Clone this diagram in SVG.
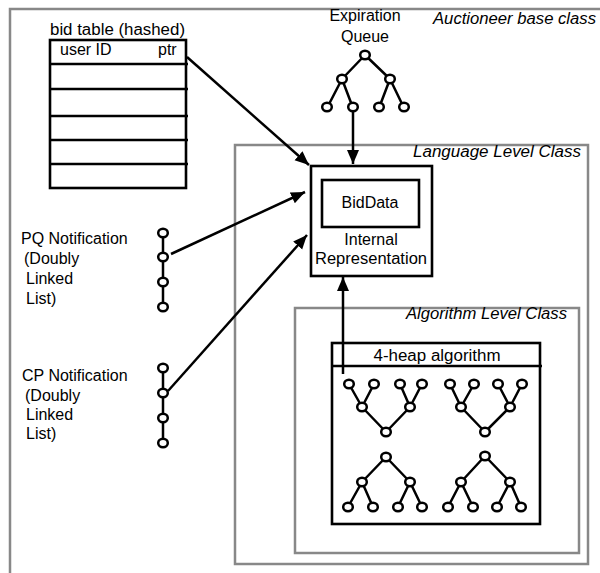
<svg xmlns="http://www.w3.org/2000/svg" width="600" height="573" viewBox="0 0 600 573">
  <style>
    text { font-family: "Liberation Sans", Arial, sans-serif; font-size: 16px; fill: #000; }
    .it { font-style: italic; }
    .mid { text-anchor: middle; }
    .frame { fill: none; stroke: #888; stroke-width: 2.5; }
    .box { fill: #fff; stroke: #000; stroke-width: 2.6; }
    .line { fill: none; stroke: #000; stroke-width: 2.6; }
    .edge { fill: none; stroke: #000; stroke-width: 2.5; }
    .node { fill: #fff; stroke: #000; stroke-width: 2.5; }
    .conn { fill: none; stroke: #000; stroke-width: 2.5; marker-end: url(#arrow); }
  </style>
  <defs>
    <marker id="arrow" markerUnits="userSpaceOnUse" markerWidth="16" markerHeight="14" refX="14" refY="6" orient="auto">
      <path d="M0,0 L14,6 L0,12 Z" fill="#000"/>
    </marker>
    <!-- heap node glyph -->
    <ellipse id="n" cx="0" cy="0" rx="4.8" ry="4.3" class="node"/>
  </defs>
  <rect width="600" height="573" fill="#fff"/>

  <!-- class frames -->
  <g id="auctioneer-base-class">
    <path class="frame" d="M10,575 V9 H602"/>
    <text class="it" x="433" y="24" textLength="163" lengthAdjust="spacingAndGlyphs">Auctioneer base class</text>
  </g>
  <g id="language-level-class">
    <rect class="frame" x="235" y="145" width="353" height="419"/>
    <text class="it" x="413" y="157" textLength="168" lengthAdjust="spacingAndGlyphs">Language Level Class</text>
  </g>
  <g id="algorithm-level-class">
    <rect class="frame" x="295" y="308" width="284" height="245"/>
    <text class="it" x="406" y="319" textLength="161" lengthAdjust="spacingAndGlyphs">Algorithm Level Class</text>
  </g>

  <!-- hashed bid table -->
  <g id="bid-table">
    <text x="50" y="35" textLength="135" lengthAdjust="spacingAndGlyphs">bid table (hashed)</text>
    <rect class="box" x="50" y="40" width="136" height="148"/>
    <path class="line" d="M50,64 H188 M50,89 H188 M50,116 H188 M50,140 H188 M50,164 H188"/>
    <text x="60" y="55">user ID</text>
    <text x="158" y="55">ptr</text>
  </g>

  <!-- expiration queue heap -->
  <g id="expiration-queue">
    <text class="mid" x="365" y="21">Expiration</text>
    <text class="mid" x="365" y="42">Queue</text>
    <path class="edge" d="M365,55 L342,79 M365,55 L390,79 M342,79 L327,108 M342,79 L353,108 M390,79 L379,108 M390,79 L404,108"/>
    <use href="#n" x="365" y="55"/>
    <use href="#n" x="342" y="79"/>
    <use href="#n" x="390" y="79"/>
    <use href="#n" x="327" y="107"/>
    <use href="#n" x="353" y="107"/>
    <use href="#n" x="379" y="107"/>
    <use href="#n" x="404" y="107"/>
  </g>

  <!-- internal representation -->
  <g id="internal-representation">
    <rect class="box" x="311" y="166" width="121" height="110"/>
    <rect class="box" x="322" y="180" width="97" height="47"/>
    <text class="mid" x="370" y="208">BidData</text>
    <text class="mid" x="371" y="245">Internal</text>
    <text class="mid" x="371" y="264" textLength="112" lengthAdjust="spacingAndGlyphs">Representation</text>
  </g>

  <!-- PQ notification list -->
  <g id="pq-notification">
    <text x="21" y="244">PQ Notification</text>
    <text x="24" y="264">(Doubly</text>
    <text x="26" y="284">Linked</text>
    <text x="26" y="304">List)</text>
    <path class="edge" d="M163,233 V307"/>
    <use href="#n" x="163" y="233"/>
    <use href="#n" x="163" y="257"/>
    <use href="#n" x="163" y="282"/>
    <use href="#n" x="163" y="307"/>
  </g>

  <!-- CP notification list -->
  <g id="cp-notification">
    <text x="22" y="381">CP Notification</text>
    <text x="25" y="401">(Doubly</text>
    <text x="26" y="420">Linked</text>
    <text x="26" y="439">List)</text>
    <path class="edge" d="M163,368 V443"/>
    <use href="#n" x="163" y="368"/>
    <use href="#n" x="163" y="393"/>
    <use href="#n" x="163" y="418"/>
    <use href="#n" x="163" y="443"/>
  </g>

  <!-- 4-heap algorithm -->
  <g id="four-heap">
    <rect class="box" x="332" y="343" width="208" height="181"/>
    <path class="line" d="M332,366 H542"/>
    <text class="mid" x="437" y="361" textLength="127" lengthAdjust="spacingAndGlyphs">4-heap algorithm</text>
    <!-- upper pair: leaves on top -->
    <path class="edge" d="M349,384 L362,407 M374,384 L362,407 M400,384 L410,407 M422,384 L410,407 M362,407 L386,432 M410,407 L386,432
                          M450,384 L461,407 M474,384 L461,407 M498,384 L510,407 M522,384 L510,407 M461,407 L485,432 M510,407 L485,432"/>
    <!-- lower pair: root on top -->
    <path class="edge" d="M386,457 L362,482 M386,457 L410,482 M362,482 L348,507 M362,482 L373,507 M410,482 L398,507 M410,482 L422,507
                          M485,456 L461,482 M485,456 L510,482 M461,482 L448,507 M461,482 L473,507 M510,482 L497,507 M510,482 L521,507"/>
    <use href="#n" x="349" y="384"/><use href="#n" x="374" y="384"/><use href="#n" x="400" y="384"/><use href="#n" x="422" y="384"/>
    <use href="#n" x="362" y="407"/><use href="#n" x="410" y="407"/><use href="#n" x="386" y="432"/>
    <use href="#n" x="450" y="384"/><use href="#n" x="474" y="384"/><use href="#n" x="498" y="384"/><use href="#n" x="522" y="384"/>
    <use href="#n" x="461" y="407"/><use href="#n" x="510" y="407"/><use href="#n" x="485" y="432"/>
    <use href="#n" x="386" y="457"/><use href="#n" x="362" y="482"/><use href="#n" x="410" y="482"/>
    <use href="#n" x="348" y="507"/><use href="#n" x="373" y="507"/><use href="#n" x="398" y="507"/><use href="#n" x="422" y="507"/>
    <use href="#n" x="485" y="456"/><use href="#n" x="461" y="482"/><use href="#n" x="510" y="482"/>
    <use href="#n" x="448" y="507"/><use href="#n" x="473" y="507"/><use href="#n" x="497" y="507"/><use href="#n" x="521" y="507"/>
  </g>

  <!-- connectors -->
  <g id="connectors">
    <path class="conn" d="M187,57 L309,165"/>
    <path class="conn" d="M171,254 L305,192"/>
    <path class="conn" d="M168,391 L307,235"/>
    <path class="conn" d="M353,112 L353,164"/>
    <path class="conn" d="M343,374 L343,277"/>
  </g>
</svg>
